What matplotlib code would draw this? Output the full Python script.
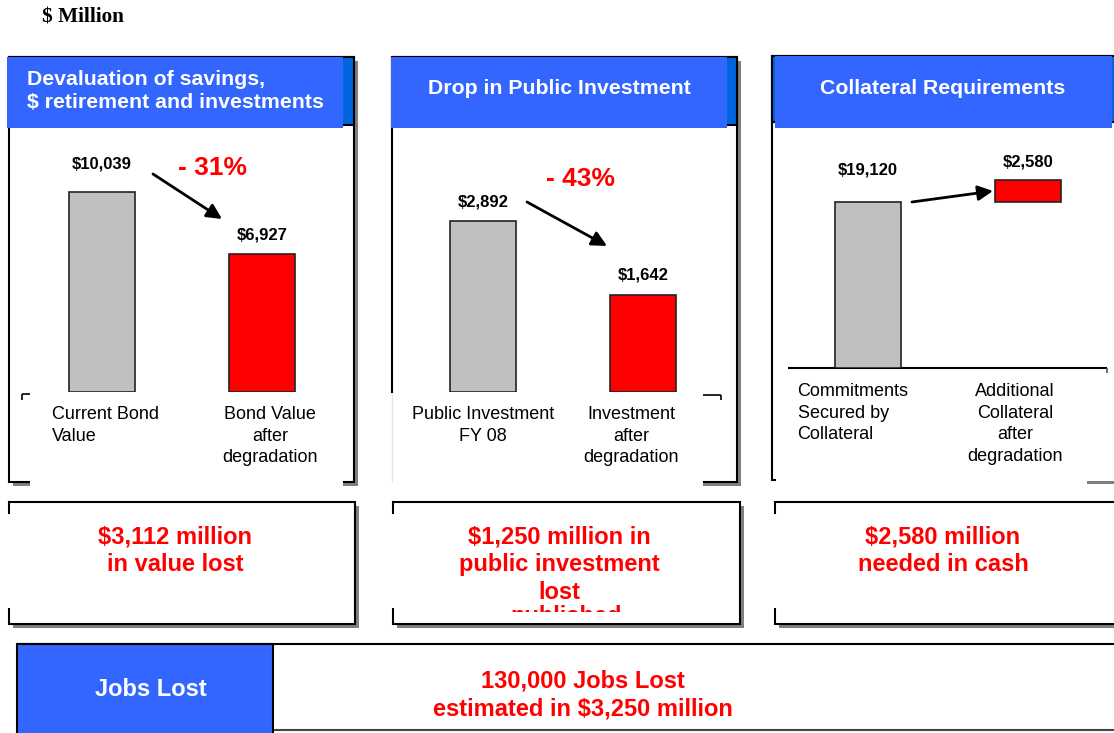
import matplotlib
matplotlib.use("Agg")
import matplotlib.pyplot as plt
from matplotlib.patches import Rectangle
from matplotlib.transforms import Bbox

# ---------------- data ----------------
unit_label = "$ Million"
panel_titles = ["Devaluation of savings,\n$ retirement and investments",
                "Drop in Public Investment",
                "Collateral Requirements"]
p1_categories = ["Current Bond\nValue", "Bond Value\nafter\ndegradation"]
p1_values = [10039, 6927]
p1_change = "- 31%"
p2_categories = ["Public Investment\nFY 08", "Investment\nafter\ndegradation"]
p2_values = [2892, 1642]
p2_change = "- 43%"
p3_categories = ["Commitments\nSecured by\nCollateral", "Additional\nCollateral\nafter\ndegradation"]
p3_values = [19120, 2580]          # second bar is stacked on the first (waterfall)
summaries = ["$3,112 million\nin value lost",
             "$1,250 million in\npublic investment\nlost",
             "$2,580 million\nneeded in cash"]
hidden_fragment = "published"
jobs_title = "Jobs Lost"
jobs_text = "130,000 Jobs Lost\nestimated in $3,250 million"

# ---------------- style ----------------
W, H = 1114, 733
BLUE = "#3366FF"
DARKBLUE = "#0066E0"
GREY = "#C0C0C0"
RED = "#FF0000"
SHADOW = "#808080"
SANS = "Liberation Sans"

fig = plt.figure(figsize=(W / 100, H / 100), dpi=100)
fig.patch.set_facecolor("white")
ov = fig.add_axes([0, 0, 1, 1])
ov.set_xlim(0, W)
ov.set_ylim(H, 0)
ov.axis("off")


def rect(x0, y0, x1, y1, **kw):
    r = Rectangle((x0, y0), x1 - x0, y1 - y0, **kw)
    ov.add_patch(r)
    return r


def line(xs, ys, **kw):
    kw.setdefault("color", "black")
    kw.setdefault("lw", 1.5)
    kw.setdefault("solid_capstyle", "butt")
    ov.plot(xs, ys, **kw)


def panel(x0, y0, x1, y1, blue_x0, blue_x1, blue_y1, strip_y1):
    rect(x0 + 4, y0 + 4, x1 + 4, y1 + 4, facecolor=SHADOW, edgecolor="none", zorder=1)
    rect(x0, y0, x1, y1, facecolor="white", edgecolor="black", lw=1.5, zorder=2)
    rect(x0, y0, x1, strip_y1, facecolor=DARKBLUE, edgecolor="black", lw=1.5, zorder=3)
    rect(blue_x0, y0, blue_x1, blue_y1, facecolor=BLUE, edgecolor="none", zorder=4)


# panels
panel(9, 57, 354, 482, 7, 343, 128, 125)
panel(392, 57, 737, 482, 391, 727, 128, 125)
panel(772, 56, 1125, 480, 775, 1112, 128, 122)

# white plot-area covers (hide parts of box borders)
rect(30, 470, 343, 495, facecolor="white", edgecolor="none", zorder=5)
rect(390, 393, 703, 495, facecolor="white", edgecolor="none", zorder=5)
line([392, 392], [393, 482], color="#E6E6E6", lw=1, zorder=6)
rect(776, 470, 1087, 495, facecolor="white", edgecolor="none", zorder=5)
rect(1087, 470, 1114, 481, facecolor="white", edgecolor="none", zorder=5)
# corner marks of plot areas
line([22, 30], [394, 394], lw=1.2, zorder=6)
line([22, 22], [394, 400], lw=1.2, zorder=6)
line([703, 721], [395, 395], lw=1.2, zorder=6)
line([721, 721], [395, 400], lw=1.2, zorder=6)
# panel 3 axis baseline
line([788, 1107], [368, 368], lw=1.5, zorder=6)
line([1107, 1107], [368, 373], lw=1.2, color="#555555", zorder=6)

# titles
ov.text(42, 18, unit_label, family="Liberation Serif", weight="bold",
        fontsize=15.3, ha="left", va="center", zorder=10)
ov.text(27, 91, panel_titles[0], family=SANS, weight="bold", color="white",
        fontsize=15.3, ha="left", va="center", linespacing=1.28, zorder=10)
ov.text(559, 88, panel_titles[1], family=SANS, weight="bold", color="white",
        fontsize=15.3, ha="center", va="center", zorder=10)
ov.text(943, 88, panel_titles[2], family=SANS, weight="bold", color="white",
        fontsize=15.3, ha="center", va="center", zorder=10)

# percent change labels
ov.text(213, 168, p1_change, family=SANS, weight="bold", color=RED,
        fontsize=19, ha="center", va="center", zorder=10)
ov.text(580, 179, p2_change, family=SANS, weight="bold", color=RED,
        fontsize=19, ha="center", va="center", zorder=10)

# arrows
arrow_kw = dict(arrowstyle="-|>,head_length=0.9,head_width=0.45", color="black", lw=2,
                shrinkA=0, shrinkB=0)
ov.annotate("", xy=(222, 219), xytext=(153, 174), arrowprops=arrow_kw, zorder=10)
ov.annotate("", xy=(607, 246), xytext=(527, 202), arrowprops=arrow_kw, zorder=10)
ov.annotate("", xy=(993, 191), xytext=(912, 202), arrowprops=arrow_kw, zorder=10)


# summary boxes
def sbox(x0, y0, x1, y1, gap=True):
    rect(x0 + 4, y0 + 4, x1 + 4, y1 + 4, facecolor=SHADOW, edgecolor="none", zorder=1)
    rect(x0, y0, x1, y1, facecolor="white", edgecolor="black", lw=1.5, zorder=2)
    if gap:
        rect(x0 - 2, y0 + 12, x0 + 3, y1 - 16, facecolor="white", edgecolor="none", zorder=3)


sbox(9, 502, 355, 624)
sbox(393, 502, 740, 624)
sbox(775, 502, 1125, 624)

sum_pos = [(175, 551), (559, 564.5), (943, 551)]
for (sx, sy), txt in zip(sum_pos, summaries):
    ov.text(sx, sy, txt, family=SANS, weight="bold", color=RED, fontsize=17,
            ha="center", va="center", linespacing=1.27, zorder=10)
# clipped (mostly hidden) text fragment in the middle box
t = ov.text(566, 605, hidden_fragment, family=SANS, weight="bold", color=RED, fontsize=17,
            ha="center", va="top", zorder=10)
t.set_clip_on(True)
t.set_clip_box(Bbox([[400, H - 612], [730, H - 605]]))

# jobs row
rect(17, 644, 1125, 740, facecolor="white", edgecolor="none", zorder=1)
line([17, 1114], [644, 644], lw=1.5, zorder=3)
line([273, 1114], [730, 730], lw=1.5, color="#444444", zorder=3)
rect(17, 644, 273, 740, facecolor=BLUE, edgecolor="black", lw=1.5, zorder=4)
ov.text(151, 690, jobs_title, family=SANS, weight="bold", color="white", fontsize=17,
        ha="center", va="center", zorder=10)
ov.text(583, 695, jobs_text, family=SANS, weight="bold", color=RED, fontsize=17,
        ha="center", va="center", linespacing=1.27, zorder=10)


# ---------------- bar charts ----------------
def px_axes(x0, x1, ytop, ybase):
    a = fig.add_axes([x0 / W, 1 - ybase / H, (x1 - x0) / W, (ybase - ytop) / H])
    a.patch.set_alpha(0)
    a.set_xlim(-0.5, 1.5)
    a.axis("off")
    return a


def cat_labels(a, cats, offs, aligns, dy):
    for i, (c, dx, al) in enumerate(zip(cats, offs, aligns)):
        a.annotate(c, xy=(i, 0), xytext=(dx, -dy), textcoords="offset pixels",
                   ha="center", va="top", multialignment=al, family=SANS,
                   fontsize=13, linespacing=1.35, annotation_clip=False, zorder=10)


def val_label(a, i, y, txt, dy):
    a.annotate(txt, xy=(i, y), xytext=(0, dy), textcoords="offset pixels",
               ha="center", va="center", family=SANS, weight="bold", fontsize=12,
               annotation_clip=False, zorder=10)


bw = 0.41
# panel 1
a1 = px_axes(22, 342, 140, 392)
a1.set_ylim(0, 12650)
a1.bar([0, 1], p1_values, width=bw, color=[GREY, RED], edgecolor="#222222", lw=1.2)
val_label(a1, 0, p1_values[0], "${:,}".format(p1_values[0]), 28)
val_label(a1, 1, p1_values[1], "${:,}".format(p1_values[1]), 19)
cat_labels(a1, p1_categories, [3, 8], ["left", "center"], 14)

# panel 2
a2 = px_axes(403, 723, 140, 392)
a2.set_ylim(0, 4262)
a2.bar([0, 1], p2_values, width=bw, color=[GREY, RED], edgecolor="#222222", lw=1.2)
val_label(a2, 0, p2_values[0], "${:,}".format(p2_values[0]), 19)
val_label(a2, 1, p2_values[1], "${:,}".format(p2_values[1]), 20)
cat_labels(a2, p2_categories, [0, -12], ["center", "center"], 14)

# panel 3 (waterfall)
a3 = px_axes(788, 1108, 140, 368)
a3.set_ylim(0, 26260)
a3.bar([0], [p3_values[0]], width=bw, color=GREY, edgecolor="#222222", lw=1.2)
a3.bar([1], [p3_values[1]], bottom=[p3_values[0]], width=bw, color=RED,
       edgecolor="#222222", lw=1.2)
val_label(a3, 0, p3_values[0], "${:,}".format(p3_values[0]), 32)
val_label(a3, 1, p3_values[0] + p3_values[1], "${:,}".format(p3_values[1]), 18)
cat_labels(a3, p3_categories, [-15, -13], ["left", "center"], 15)

fig.savefig("out.png", dpi=100, facecolor="white")
